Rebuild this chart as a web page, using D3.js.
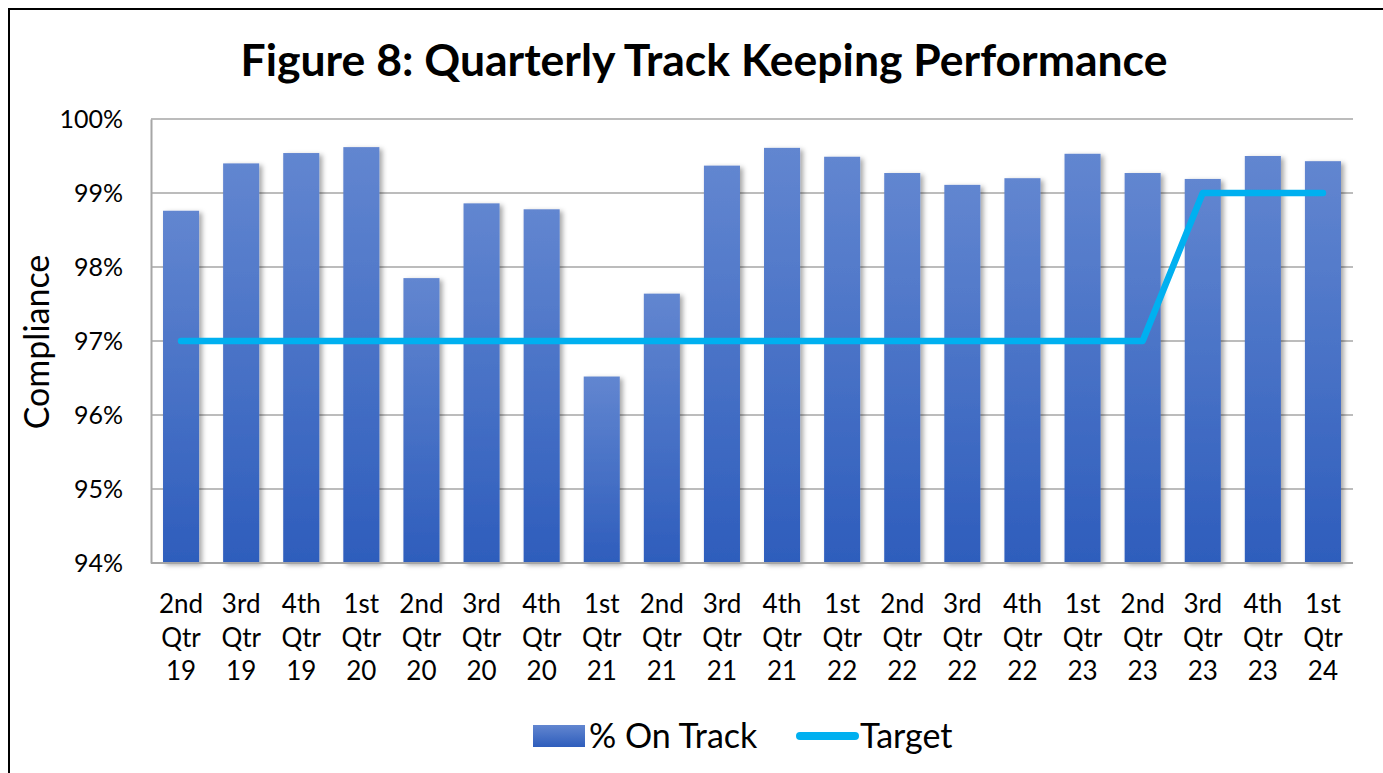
<!DOCTYPE html>
<html>
<head>
<meta charset="UTF-8">
<script src="https://cdn.jsdelivr.net/npm/d3@7"></script>
<style>
  html, body { margin: 0; padding: 0; background: #fff; }
  svg { display: block; font-family: Lato, "Open Sans", sans-serif; }
</style>
</head>
<body>
<svg id="chart" width="1383" height="773"></svg>
<script>
// data
var quarters = ["2nd Qtr 19", "3rd Qtr 19", "4th Qtr 19", "1st Qtr 20", "2nd Qtr 20", "3rd Qtr 20", "4th Qtr 20",
  "1st Qtr 21", "2nd Qtr 21", "3rd Qtr 21", "4th Qtr 21", "1st Qtr 22", "2nd Qtr 22", "3rd Qtr 22", "4th Qtr 22",
  "1st Qtr 23", "2nd Qtr 23", "3rd Qtr 23", "4th Qtr 23", "1st Qtr 24"];
var onTrack = [98.76, 99.40, 99.54, 99.62, 97.85, 98.86, 98.78, 96.52, 97.64, 99.37,
  99.61, 99.49, 99.27, 99.11, 99.20, 99.53, 99.27, 99.19, 99.50, 99.43];
var target = [97, 97, 97, 97, 97, 97, 97, 97, 97, 97, 97, 97, 97, 97, 97, 97, 97, 99, 99, 99];
var yTicks = [94, 95, 96, 97, 98, 99, 100];

var svg = d3.select("#chart");
var margin = { left: 151, right: 30, top: 119, bottom: 210 };
var width = 1383 - margin.left - margin.right,
    height = 773 - margin.top - margin.bottom;

var defs = svg.append("defs");
var grad = defs.append("linearGradient").attr("id", "barGrad")
  .attr("x1", 0).attr("y1", 0).attr("x2", 0).attr("y2", 1);
grad.append("stop").attr("offset", "0%").attr("stop-color", "#6286d0");
grad.append("stop").attr("offset", "100%").attr("stop-color", "#2e5dbc");
var legGrad = defs.append("linearGradient").attr("id", "legGrad")
  .attr("x1", 0).attr("y1", 0).attr("x2", 0).attr("y2", 1);
legGrad.append("stop").attr("offset", "0%").attr("stop-color", "#6286d0");
legGrad.append("stop").attr("offset", "100%").attr("stop-color", "#2e5dbc");
var shadow = defs.append("filter").attr("id", "shadow")
  .attr("x", "-20%").attr("y", "-5%").attr("width", "150%").attr("height", "115%");
shadow.append("feDropShadow").attr("dx", 3).attr("dy", 2).attr("stdDeviation", 2.5)
  .attr("flood-color", "#000").attr("flood-opacity", 0.35);

// outer border
svg.append("rect").attr("x", 9).attr("y", 9).attr("width", 1400).attr("height", 800)
  .attr("fill", "none").attr("stroke", "#000").attr("stroke-width", 2);

// title
svg.append("text").attr("x", 704).attr("y", 76).attr("text-anchor", "middle")
  .attr("font-size", 44.5).attr("font-weight", "bold").attr("fill", "#000")
  .text("Figure 8: Quarterly Track Keeping Performance");

var g = svg.append("g").attr("transform", "translate(" + margin.left + "," + margin.top + ")");

var x = d3.scaleBand().domain(quarters).range([0, width]).paddingInner(0.4).paddingOuter(0.2);
var y = d3.scaleLinear().domain([94, 100]).range([height, 0]);

// gridlines
g.append("g").selectAll("line").data(yTicks).enter().append("line")
  .attr("x1", 0).attr("x2", width)
  .attr("y1", function (d) { return y(d); }).attr("y2", function (d) { return y(d); })
  .attr("stroke", "#a6a6a6").attr("stroke-width", 1.3);

// y axis
var yAxis = g.append("g").call(d3.axisLeft(y).tickValues(yTicks).tickSize(0).tickPadding(28)
  .tickFormat(function (d) { return d + "%"; }));
yAxis.select(".domain").attr("stroke", "#a6a6a6").attr("stroke-width", 2);
yAxis.selectAll("text").attr("font-size", 25).attr("fill", "#000").attr("font-family", "Lato, sans-serif");

// bars
g.append("g").selectAll("rect").data(quarters).enter().append("rect")
  .attr("x", function (d) { return x(d); })
  .attr("y", function (d, i) { return y(onTrack[i]); })
  .attr("width", x.bandwidth())
  .attr("height", function (d, i) { return height - y(onTrack[i]); })
  .attr("fill", "url(#barGrad)")
  .attr("filter", "url(#shadow)");

// x axis line
g.append("line").attr("x1", 0).attr("x2", width).attr("y1", height).attr("y2", height)
  .attr("stroke", "#a6a6a6").attr("stroke-width", 2);

// x labels (three lines)
var xl = g.append("g").selectAll("text").data(quarters).enter().append("text")
  .attr("text-anchor", "middle").attr("font-size", 26).attr("fill", "#000")
  .attr("transform", function (d) { return "translate(" + (x(d) + x.bandwidth() / 2) + "," + (height + 50) + ")"; });
xl.selectAll("tspan").data(function (d) { return d.split(" "); }).enter().append("tspan")
  .attr("x", 0).attr("dy", function (d, i) { return i === 0 ? 0 : 33.5; })
  .text(function (d) { return d; });

// target line
var line = d3.line()
  .x(function (d, i) { return x(quarters[i]) + x.bandwidth() / 2; })
  .y(function (d) { return y(d); });
g.append("path").datum(target).attr("d", line)
  .attr("fill", "none").attr("stroke", "#00b0f0").attr("stroke-width", 6.5)
  .attr("stroke-linecap", "round").attr("stroke-linejoin", "round");

// y axis title
svg.append("text").attr("transform", "translate(49,342) rotate(-90)")
  .attr("text-anchor", "middle").attr("font-size", 34).attr("fill", "#000")
  .text("Compliance");

// legend
var leg = svg.append("g");
leg.append("rect").attr("x", 533).attr("y", 725).attr("width", 52).attr("height", 22)
  .attr("fill", "url(#legGrad)");
leg.append("text").attr("x", 589).attr("y", 748).attr("font-size", 34).attr("fill", "#000").text("% On Track");
leg.append("line").attr("x1", 800).attr("x2", 855).attr("y1", 736).attr("y2", 736)
  .attr("stroke", "#00b0f0").attr("stroke-width", 8).attr("stroke-linecap", "round");
leg.append("text").attr("x", 860).attr("y", 748).attr("font-size", 34).attr("fill", "#000").text("Target");
</script>
</body>
</html>
